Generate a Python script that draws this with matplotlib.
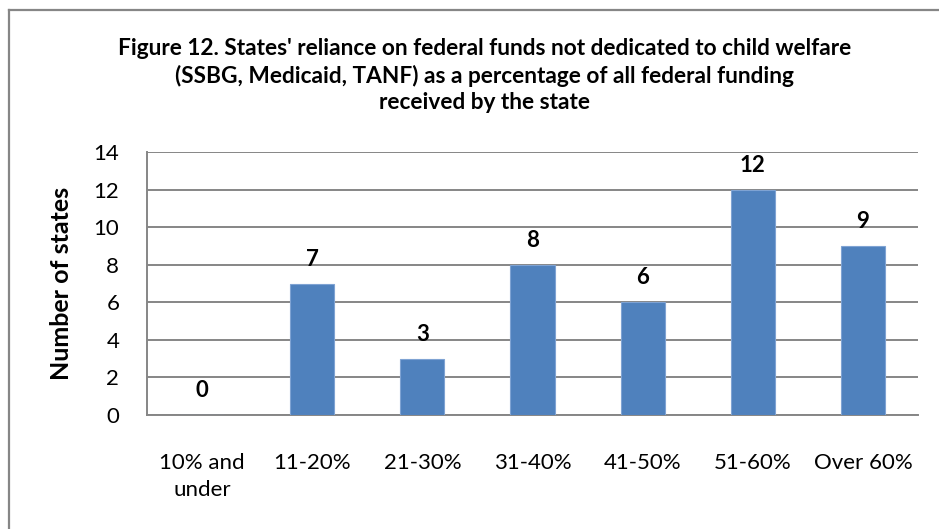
import matplotlib
matplotlib.use("Agg")
import matplotlib.pyplot as plt
import matplotlib.lines as mlines

plt.rcParams['font.family'] = ['Lato', 'DejaVu Sans']

# data
categories = ["10% and\nunder", "11-20%", "21-30%", "31-40%", "41-50%", "51-60%", "Over 60%"]
num_states = [0, 7, 3, 8, 6, 12, 9]
yticks = [0, 2, 4, 6, 8, 10, 12, 14]

title = ("Figure 12. States' reliance on federal funds not dedicated to child welfare\n"
         "(SSBG, Medicaid, TANF) as a percentage of all federal funding\n"
         "received by the state")

fig = plt.figure(figsize=(9.39, 5.29), dpi=100)
ax = fig.add_axes([0.1566, 0.2155, 0.821, 0.497])

x = range(len(categories))
ax.bar(x, num_states, width=0.4, color='#4F81BD', edgecolor='#7FA3D3', linewidth=0.8, zorder=3)

for xi, v in zip(x, num_states):
    ax.annotate(str(v), (xi, v), xytext=(0, 10), textcoords='offset points',
                ha='center', va='bottom', fontsize=16, fontweight='bold', zorder=4)

ax.set_xlim(-0.5, len(categories) - 0.5)
ax.set_ylim(0, 14)
ax.set_yticks(yticks)
ax.set_xticks(list(x))
ax.set_xticklabels(categories, fontsize=16, linespacing=1.45, va='top')
ax.tick_params(axis='y', labelsize=16, length=0, pad=20)
ax.tick_params(axis='x', length=0, pad=27)
ax.yaxis.grid(True, color='#868686', linewidth=1.4, zorder=0)
ax.set_axisbelow(True)
for s in ['top', 'right']:
    ax.spines[s].set_visible(False)
for s in ['left', 'bottom']:
    ax.spines[s].set_color('#868686')
    ax.spines[s].set_linewidth(1.4)

ax.set_ylabel("Number of states", fontsize=18, fontweight='bold', labelpad=15)

fig.text(0.516, 0.928, title, ha='center', va='top', fontsize=16.3, fontweight='bold',
         linespacing=1.32)

# border lines visible at top and left of the crop
fig.add_artist(mlines.Line2D([8.5 / 939, 1], [1 - 9.5 / 529, 1 - 9.5 / 529],
                             color='#868686', linewidth=1.6, transform=fig.transFigure))
fig.add_artist(mlines.Line2D([8.5 / 939, 8.5 / 939], [0, 1 - 9.5 / 529],
                             color='#868686', linewidth=1.6, transform=fig.transFigure))

fig.savefig("out.png", dpi=100)
